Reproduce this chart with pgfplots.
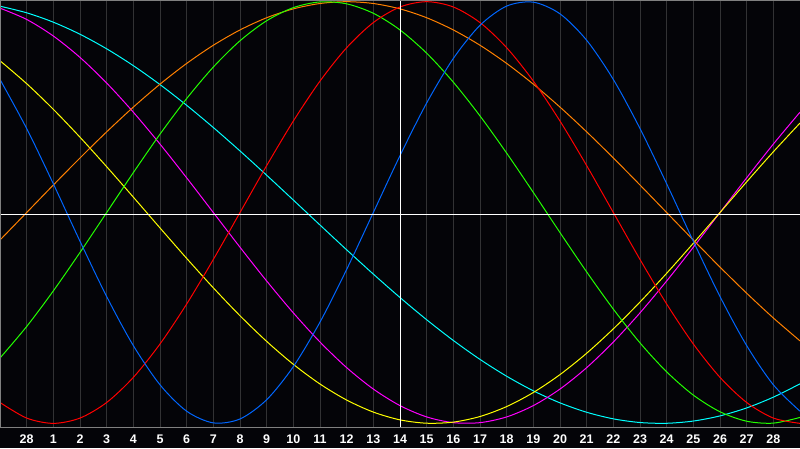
\documentclass[border=0pt]{standalone}
\usepackage{pgfplots}
\pgfplotsset{compat=1.18}
\usepackage{pgfplotstable}
\usepackage{fontspec}
\setmainfont{Liberation Sans}
\definecolor{bg}{RGB}{4,4,8}
\definecolor{gridc}{RGB}{50,50,52}
\definecolor{bord}{RGB}{128,128,128}
\definecolor{cblue}{RGB}{0,102,255}
\definecolor{cred}{RGB}{255,0,0}
\definecolor{cgreen}{RGB}{34,255,0}
\definecolor{cmag}{RGB}{255,0,255}
\definecolor{cyel}{RGB}{255,255,0}
\definecolor{corange}{RGB}{255,128,0}
\definecolor{ccyan}{RGB}{0,255,255}
\pgfplotstableread{
u blue red green magenta yellow orange cyan
0 0.6311 -0.9010 -0.6901 0.9694 0.7199 -0.1305 0.9786
1 0.3984 -0.9749 -0.5406 0.9158 0.6112 0 0.9473
2 0.1362 -1 -0.3717 0.8372 0.4895 0.1305 0.9028
3 -0.1362 -0.9749 -0.1893 0.7357 0.3572 0.2588 0.8456
4 -0.3984 -0.9010 0 0.6142 0.2174 0.3827 0.7765
5 -0.6311 -0.7818 0.1893 0.4759 0.0730 0.5 0.6966
6 -0.8170 -0.6235 0.3717 0.3247 -0.0730 0.6088 0.6068
7 -0.9423 -0.4339 0.5406 0.1646 -0.2174 0.7071 0.5085
8 -0.9977 -0.2225 0.6901 0 -0.3572 0.7934 0.4031
9 -0.9791 0 0.8146 -0.1646 -0.4895 0.8660 0.2921
10 -0.8879 0.2225 0.9096 -0.3247 -0.6112 0.9239 0.1769
11 -0.7308 0.4339 0.9718 -0.4759 -0.7199 0.9659 0.0592
12 -0.5196 0.6235 0.9989 -0.6142 -0.8133 0.9914 -0.0592
13 -0.2698 0.7818 0.9898 -0.7357 -0.8894 1 -0.1769
14 0 0.9010 0.9450 -0.8372 -0.9465 0.9914 -0.2921
15 0.2698 0.9749 0.8660 -0.9158 -0.9834 0.9659 -0.4031
16 0.5196 1 0.7557 -0.9694 -0.9993 0.9239 -0.5085
17 0.7308 0.9749 0.6182 -0.9966 -0.9940 0.8660 -0.6068
18 0.8879 0.9010 0.4582 -0.9966 -0.9675 0.7934 -0.6966
19 0.9791 0.7818 0.2817 -0.9694 -0.9203 0.7071 -0.7765
20 0.9977 0.6235 0.0951 -0.9158 -0.8535 0.6088 -0.8456
21 0.9423 0.4339 -0.0951 -0.8372 -0.7686 0.5 -0.9028
22 0.8170 0.2225 -0.2817 -0.7357 -0.6673 0.3827 -0.9473
23 0.6311 0 -0.4582 -0.6142 -0.5517 0.2588 -0.9786
24 0.3984 -0.2225 -0.6182 -0.4759 -0.4244 0.1305 -0.9960
25 0.1362 -0.4339 -0.7557 -0.3247 -0.2881 0 -0.9996
26 -0.1362 -0.6235 -0.8660 -0.1646 -0.1456 -0.1305 -0.9890
27 -0.3984 -0.7818 -0.9450 0 0 -0.2588 -0.9646
28 -0.6311 -0.9010 -0.9898 0.1646 0.1456 -0.3827 -0.9267
29 -0.8170 -0.9749 -0.9989 0.3247 0.2881 -0.5 -0.8757
30 -0.9423 -1 -0.9718 0.4759 0.4244 -0.6088 -0.8125
}\bio
\begin{document}
\begin{tikzpicture}
\useasboundingbox (0,-20pt) rectangle (800pt,428pt);
\fill[bg] (0,-20pt) rectangle (800pt,428pt);
\begin{axis}[
  at={(0,0)}, anchor=south west,
  scale only axis, width=800pt, height=428pt,
  xmin=0, xmax=30, ymin=-1.022, ymax=1.008,
  axis line style={draw=none},
  xtick={1,2,3,4,5,6,7,8,9,10,11,12,13,14,15,16,17,18,19,20,21,22,23,24,25,26,27,28,29},
  xticklabels={28,1,2,3,4,5,6,7,8,9,10,11,12,13,14,15,16,17,18,19,20,21,22,23,24,25,26,27,28},
  ytick=\empty,
  major tick length=0pt,
  xmajorgrids,
  grid style={gridc, line width=1pt},
  xticklabel style={anchor=center, yshift=-11.5pt, text=white, font=\fontsize{12.5}{12.5}\selectfont\bfseries},
  every axis plot/.append style={line width=1pt, smooth, no markers},
]
\addplot[ccyan] table[x=u, y=cyan] {\bio};
\addplot[cmag] table[x=u, y=magenta] {\bio};
\addplot[cyel] table[x=u, y=yellow] {\bio};
\addplot[corange] table[x=u, y=orange] {\bio};
\addplot[cgreen] table[x=u, y=green] {\bio};
\addplot[cred] table[x=u, y=red] {\bio};
\addplot[cblue] table[x=u, y=blue] {\bio};
\draw[white, line width=1pt] (axis cs:15,-1.022) -- (axis cs:15,1.008);
\draw[white, line width=1pt] (axis cs:0,-0.008) -- (axis cs:30,-0.008);
\draw[bord, line width=1pt] ([yshift=0.5pt]rel axis cs:0,0) -- ([yshift=0.5pt]rel axis cs:1,0);
\draw[bord, line width=1pt] ([xshift=0.5pt]rel axis cs:0,0) -- ([xshift=0.5pt,yshift=-0.5pt]rel axis cs:0,1) -- ([yshift=-0.5pt]rel axis cs:1,1);
\end{axis}
\end{tikzpicture}
\end{document}
